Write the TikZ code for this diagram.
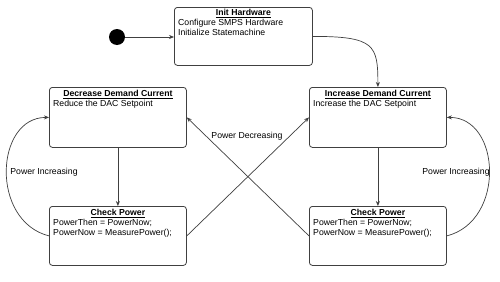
\documentclass[tikz,border=0pt]{standalone}
\usepackage{fontspec}
\setmainfont{Liberation Sans}
\usetikzlibrary{arrows.meta}
\definecolor{linec}{HTML}{404040}
\begin{document}
\begin{tikzpicture}[x=1pt,y=-1pt,
  font=\fontsize{8.7}{10}\selectfont,
  stbox/.style={draw=linec, line width=0.8pt, rounded corners=3pt, minimum width=137pt, minimum height=60pt, anchor=north west, inner sep=0pt},
  ttl/.style={font=\fontsize{8.7}{10}\selectfont\bfseries, inner sep=0pt, anchor=base},
  bodyline/.style={inner sep=0pt, anchor=base west},
  lbl/.style={inner sep=0pt},
  conn/.style={draw=linec, line width=0.7pt, -{Stealth[length=5pt,width=4pt]}}]
\useasboundingbox[fill=white] (0,0) rectangle (500,281);

% start
\node[circle, fill=black, minimum size=16pt, inner sep=0pt] (start) at (117,37) {};

% boxes
\node[stbox, minimum width=138pt, minimum height=58pt] (init) at (174,7) {};
\node[stbox] (dec) at (49,87) {};
\node[stbox] (inc) at (309,87) {};
\node[stbox, minimum height=59pt] (chkL) at (49,206) {};
\node[stbox, minimum height=59pt] (chkR) at (309,206) {};

% texts
\node[ttl] (initT) at ([yshift=-8.5pt]init.north) {\underline{Init Hardware}};
\node[bodyline] (initB1) at ([xshift=4pt,yshift=-18pt]init.north west) {Configure SMPS Hardware};
\node[bodyline] (initB2) at ([xshift=4pt,yshift=-28pt]init.north west) {Initialize Statemachine};

\node[ttl] (decT) at ([yshift=-9.5pt]dec.north) {\underline{Decrease Demand Current}};
\node[bodyline] (decB) at ([xshift=4pt,yshift=-19pt]dec.north west) {Reduce the DAC Setpoint};

\node[ttl] (incT) at ([yshift=-9.5pt]inc.north) {\underline{Increase Demand Current}};
\node[bodyline] (incB) at ([xshift=4pt,yshift=-19pt]inc.north west) {Increase the DAC Setpoint};

\node[ttl] (chkLT) at ([yshift=-9.5pt]chkL.north) {\underline{Check Power}};
\node[bodyline] (chkLB1) at ([xshift=4pt,yshift=-19pt]chkL.north west) {PowerThen = PowerNow;};
\node[bodyline] (chkLB2) at ([xshift=4pt,yshift=-29pt]chkL.north west) {PowerNow = MeasurePower();};

\node[ttl] (chkRT) at ([yshift=-9.5pt]chkR.north) {\underline{Check Power}};
\node[bodyline] (chkRB1) at ([xshift=4pt,yshift=-19pt]chkR.north west) {PowerThen = PowerNow;};
\node[bodyline] (chkRB2) at ([xshift=4pt,yshift=-29pt]chkR.north west) {PowerNow = MeasurePower();};

% connectors
\draw[conn] (start) -- (start -| init.west);
\draw[conn] (init.east) .. controls +(62,0) and +(0,-42) .. (inc.north);
\draw[conn] (dec.south) -- (chkL.north);
\draw[conn] (inc.south) -- (chkR.north);
\draw[conn] (chkL.west) .. controls +(-59,-15) and +(-54,0) .. (dec.west);
\draw[conn] (chkR.east) .. controls +(59,-15) and +(54,0) .. (inc.west -| inc.east);
\draw[conn] (chkR.west) -- (dec.east);
\draw[conn] (chkL.east) -- (inc.west);

% labels
\node[lbl] (lblL) at (44,172) {Power Increasing};
\node[lbl] (lblR) at (456,172) {Power Increasing};
\node[lbl] (lblM) at (247,136) {Power Decreasing};
\end{tikzpicture}
\end{document}
